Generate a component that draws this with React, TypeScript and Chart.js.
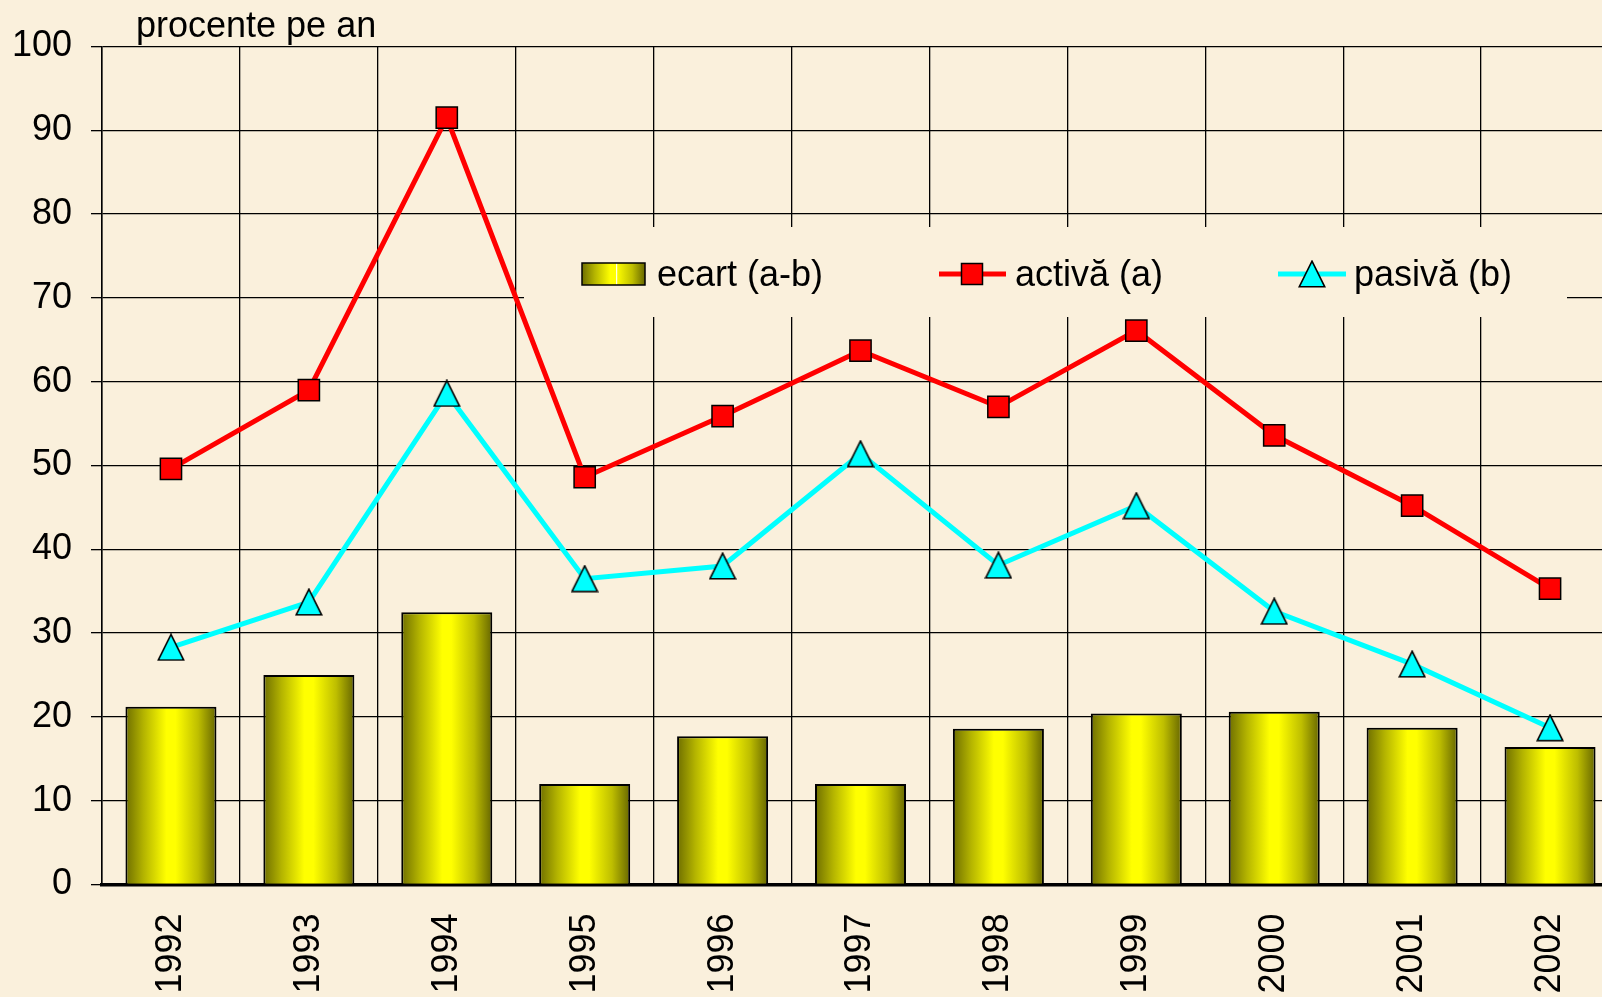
import React, { useEffect, useRef } from 'react';
import { Chart, registerables } from 'chart.js';

Chart.register(...registerables);

// ---- data ----
const years = ['1992', '1993', '1994', '1995', '1996', '1997', '1998', '1999', '2000', '2001', '2002'];
const ecart = [21.2, 25.0, 32.5, 12.0, 17.7, 12.0, 18.6, 20.4, 20.6, 18.7, 16.4];
const activa = [49.6, 59.0, 91.5, 48.6, 55.9, 63.7, 57.0, 66.1, 53.6, 45.2, 35.3];
const pasiva = [28.3, 33.7, 58.6, 36.5, 38.0, 51.4, 38.1, 45.2, 32.6, 26.3, 18.7];
const legendLabels = ['ecart (a-b)', 'activă (a)', 'pasivă (b)'];
const axisTitle = 'procente pe an';
const yMin = 0;
const yMax = 100;
const yStep = 10;

// ---- styling ----
const BG = '#FAF0DC';
const FONT = 'Arial, "Liberation Sans", sans-serif';
const FONT_SIZE = 36;
const RED = '#FF0000';
const CYAN = '#00FFFF';
const BAR_PCT = 0.66;
const CANVAS_W = 1640;
const CANVAS_H = 997;

function makeTriangle(): HTMLCanvasElement {
  const c = document.createElement('canvas');
  c.width = 28;
  c.height = 28;
  const g = c.getContext('2d')!;
  g.beginPath();
  g.moveTo(14, 1.2);
  g.lineTo(26.8, 26.8);
  g.lineTo(1.2, 26.8);
  g.closePath();
  g.fillStyle = CYAN;
  g.fill();
  g.lineWidth = 1.6;
  g.strokeStyle = '#000';
  g.stroke();
  return c;
}

function barGradient(c: CanvasRenderingContext2D, x0: number, x1: number) {
  const g = c.createLinearGradient(x0, 0, x1, 0);
  g.addColorStop(0, '#6E6E00');
  g.addColorStop(0.2, '#B4B400');
  g.addColorStop(0.45, '#FFFF00');
  g.addColorStop(0.55, '#FFFF00');
  g.addColorStop(0.8, '#BEBE00');
  g.addColorStop(1, '#666600');
  return g;
}

export default function App() {
  const ref = useRef<HTMLCanvasElement | null>(null);

  useEffect(() => {
    const canvas = ref.current;
    if (!canvas) return;
    const tri = makeTriangle();

    const overlay = {
      id: 'overlay',
      beforeDatasetsDraw(chart: any) {
        const c: CanvasRenderingContext2D = chart.ctx;
        c.save();
        // legend box (opaque, no border) hides the grid behind it
        c.fillStyle = BG;
        c.fillRect(524, 227, 1043, 90);
        c.restore();
      },
      afterDatasetsDraw(chart: any) {
        const c: CanvasRenderingContext2D = chart.ctx;
        c.save();
        const cy = 274;
        c.font = `${FONT_SIZE}px ${FONT}`;
        c.textBaseline = 'alphabetic';
        c.textAlign = 'left';
        // item 1: bar swatch
        c.fillStyle = barGradient(c, 582, 645);
        c.fillRect(582, 263, 63, 22);
        c.fillStyle = 'rgba(255,255,255,0.9)';
        c.fillRect(616, 263, 1.2, 22);
        c.lineWidth = 1.5;
        c.strokeStyle = '#000';
        c.strokeRect(582, 263, 63, 22);
        c.fillStyle = '#000';
        c.fillText(legendLabels[0], 657, 286);
        // item 2: red line + square
        c.strokeStyle = RED;
        c.lineWidth = 5;
        c.beginPath();
        c.moveTo(939, cy);
        c.lineTo(1006, cy);
        c.stroke();
        c.fillStyle = RED;
        c.fillRect(961.5, cy - 10.5, 21, 21);
        c.strokeStyle = '#000';
        c.lineWidth = 1.5;
        c.strokeRect(961.5, cy - 10.5, 21, 21);
        c.fillStyle = '#000';
        c.fillText(legendLabels[1], 1015, 286);
        // item 3: cyan line + triangle
        c.strokeStyle = CYAN;
        c.lineWidth = 5;
        c.beginPath();
        c.moveTo(1278, cy);
        c.lineTo(1346, cy);
        c.stroke();
        c.drawImage(tri, 1312 - 14, cy - 14);
        c.fillStyle = '#000';
        c.fillText(legendLabels[2], 1354, 286);
        c.restore();
      },
      afterDraw(chart: any) {
        const c: CanvasRenderingContext2D = chart.ctx;
        c.save();
        c.font = `${FONT_SIZE}px ${FONT}`;
        c.fillStyle = '#000';
        c.textAlign = 'left';
        c.textBaseline = 'alphabetic';
        c.fillText(axisTitle, 136, 37);
        c.restore();
      },
    };

    const chart = new Chart(canvas, {
      type: 'bar',
      data: {
        labels: years,
        datasets: [
          {
            type: 'line',
            label: legendLabels[1],
            data: activa,
            borderColor: RED,
            borderWidth: 5,
            pointStyle: 'rect',
            pointRadius: 15,
            pointHoverRadius: 15,
            pointBackgroundColor: RED,
            pointBorderColor: '#000',
            pointBorderWidth: 1.5,
            tension: 0,
            order: 0,
          } as any,
          {
            type: 'line',
            label: legendLabels[2],
            data: pasiva,
            borderColor: CYAN,
            borderWidth: 5,
            pointStyle: tri,
            pointRadius: 14,
            pointHoverRadius: 14,
            tension: 0,
            order: 1,
          } as any,
          {
            type: 'bar',
            label: legendLabels[0],
            data: ecart,
            backgroundColor: (ctx: any) => {
              const ch = ctx.chart;
              const xs = ch.scales && ch.scales.x;
              if (!xs || ctx.dataIndex === undefined || !xs.width) return '#CCCC00';
              const cx = xs.getPixelForValue(ctx.dataIndex);
              const half = (xs.width / years.length) * BAR_PCT / 2;
              return barGradient(ch.ctx, cx - half, cx + half);
            },
            borderColor: '#000',
            borderWidth: 2,
            barPercentage: BAR_PCT,
            categoryPercentage: 1,
            order: 2,
          } as any,
        ],
      },
      options: {
        responsive: false,
        animation: false,
        devicePixelRatio: 1,
        layout: { padding: { left: 0, top: 46.5, right: CANVAS_W - 1619, bottom: 0 } },
        plugins: {
          legend: { display: false },
          tooltip: { enabled: false },
        },
        scales: {
          x: {
            offset: true,
            grid: { color: '#000', lineWidth: 1.3, drawTicks: false, offset: true },
            border: { color: '#000', width: 3.5 },
            ticks: {
              color: '#000',
              font: { size: FONT_SIZE, family: FONT },
              minRotation: 90,
              maxRotation: 90,
              padding: 29,
              autoSkip: false,
            },
            afterFit: (s: any) => {
              s.height = CANVAS_H - 884.5;
            },
          },
          y: {
            min: yMin,
            max: yMax,
            ticks: {
              stepSize: yStep,
              color: '#000',
              font: { size: FONT_SIZE, family: FONT },
              padding: 19,
            },
            grid: { color: '#000', lineWidth: 1.3, tickLength: 11, tickColor: '#000' },
            border: { color: '#000', width: 1.5 },
            afterFit: (s: any) => {
              s.width = 102;
            },
          },
        },
      },
      plugins: [overlay],
    });

    return () => chart.destroy();
  }, []);

  return (
    <div
      style={{
        position: 'fixed',
        left: 0,
        top: 0,
        width: 1602,
        height: 997,
        overflow: 'hidden',
        background: BG,
      }}
    >
      <canvas
        ref={ref}
        width={CANVAS_W}
        height={CANVAS_H}
        style={{ display: 'block', width: CANVAS_W, height: CANVAS_H }}
      />
    </div>
  );
}
